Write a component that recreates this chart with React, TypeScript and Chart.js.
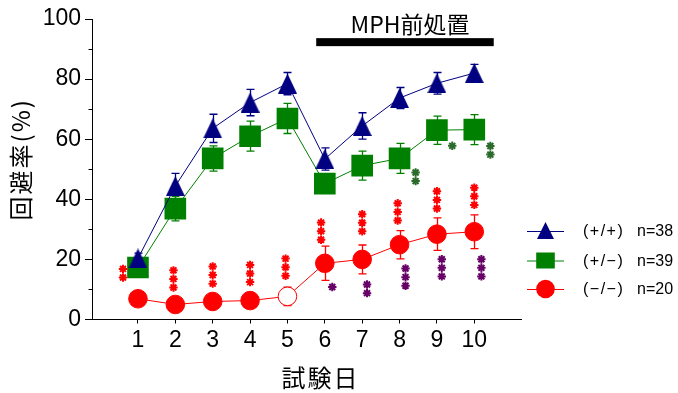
import React, { useEffect, useRef } from 'react';
import { Chart, registerables } from 'chart.js';

Chart.register(...registerables);

// ---- data ----
const days = [1, 2, 3, 4, 5, 6, 7, 8, 9, 10];
const wtMean = [20.3, 44.4, 63.6, 72.2, 78.5, 53.4, 64.4, 73.7, 78.6, 82.0];
const wtErr = [1.8, 4.2, 4.7, 4.4, 3.7, 3.7, 4.4, 3.5, 3.6, 2.9];
const hetMean = [17.3, 36.9, 53.6, 61.0, 66.9, 45.2, 51.2, 53.6, 63.0, 63.2];
const hetErr = [1.8, 4.1, 4.2, 5.0, 5.0, 3.0, 4.8, 5.0, 4.7, 5.0];
const koMean = [6.9, 5.0, 6.0, 6.3, 7.7, 18.7, 20.0, 24.9, 28.4, 29.2];
const koErr = [1.5, 1.5, 1.5, 1.5, 3.1, 5.7, 4.8, 4.7, 5.4, 5.6];
const seriesLabels = ['(+/+)', '(+/−)', '(−/−)'];
const seriesN = ['n=38', 'n=39', 'n=20'];
const yTickValues = [0, 10, 20, 30, 40, 50, 60, 70, 80, 90, 100];

// significance marks: x position (day), y centre (value), number of asterisks
const redStarX = [0.6, 1.95, 3.0, 4.0, 4.95, 5.9, 7.0, 7.95, 9.0, 10.0];
const redStarY = [15.4, 13.5, 14.8, 15.3, 17.4, 29.4, 32.2, 35.8, 39.8, 41.0];
const redStarN = [2, 3, 3, 3, 3, 3, 3, 3, 3, 3];
const purpleStarX = [6.2, 7.13, 8.16, 9.13, 10.19];
const purpleStarY = [10.8, 10.2, 14.1, 17.2, 17.2];
const purpleStarN = [1, 2, 3, 3, 3];
const greenStarX = [8.43, 9.41, 10.43];
const greenStarY = [47.5, 57.8, 56.3];
const greenStarN = [2, 1, 2];

const mphLabel = 'MPH前処置';
const mphRange = [5.77, 10.52];
const mphY = 92.3;

const xTitle = '試験日';
const yTitle = '回避率(%)';

const BLUE = '#000080';
const GREEN = '#008000';
const RED = '#ff0000';
const PURPLE = '#660066';
const DKGREEN = '#2a6a2a';
const NUM_FONT = "'Liberation Sans', Arial, sans-serif";
const CJK_FONT = "'Noto Sans CJK JP', 'Noto Sans', sans-serif";

function makeTriangle(w: number, h: number, color: string) {
  const c = document.createElement('canvas');
  c.width = w;
  c.height = h;
  const g = c.getContext('2d')!;
  g.fillStyle = color;
  g.beginPath();
  g.moveTo(w / 2, 0);
  g.lineTo(w, h);
  g.lineTo(0, h);
  g.closePath();
  g.fill();
  return c;
}

function drawStar(ctx: CanvasRenderingContext2D, cx: number, cy: number, r: number) {
  ctx.beginPath();
  for (let k = 0; k < 4; k++) {
    const a = (k * Math.PI) / 4;
    ctx.moveTo(cx - r * Math.cos(a), cy - r * Math.sin(a));
    ctx.lineTo(cx + r * Math.cos(a), cy + r * Math.sin(a));
  }
  ctx.stroke();
}

export default function App() {
  const ref = useRef<HTMLCanvasElement>(null);

  useEffect(() => {
    const canvas = ref.current!;
    const tri = makeTriangle(19, 20, BLUE);
    const triLegend = makeTriangle(17, 17, BLUE);
    const means = [wtMean, hetMean, koMean];
    const errs = [wtErr, hetErr, koErr];
    const colors = [BLUE, GREEN, RED];

    const extras = {
      id: 'extras',
      beforeDatasetsDraw(chart: any) {
        const ctx = chart.ctx as CanvasRenderingContext2D;
        const xs = chart.scales.x;
        const ys = chart.scales.y;
        ctx.save();
        ctx.lineWidth = 1.3;
        for (let s = 0; s < 3; s++) {
          ctx.strokeStyle = colors[s];
          for (let j = 0; j < days.length; j++) {
            const px = Math.round(xs.getPixelForValue(days[j])) + 0.5;
            const top = ys.getPixelForValue(means[s][j] + errs[s][j]);
            const bot = ys.getPixelForValue(means[s][j] - errs[s][j]);
            ctx.beginPath();
            ctx.moveTo(px, top);
            ctx.lineTo(px, bot);
            ctx.moveTo(px - 4, top);
            ctx.lineTo(px + 4, top);
            ctx.moveTo(px - 4, bot);
            ctx.lineTo(px + 4, bot);
            ctx.stroke();
          }
        }
        ctx.restore();
      },
      afterDatasetsDraw(chart: any) {
        const ctx = chart.ctx as CanvasRenderingContext2D;
        const xs = chart.scales.x;
        const ys = chart.scales.y;
        ctx.save();
        ctx.lineWidth = 2;
        const groups: [number[], number[], number[], string][] = [
          [redStarX, redStarY, redStarN, RED],
          [purpleStarX, purpleStarY, purpleStarN, PURPLE],
          [greenStarX, greenStarY, greenStarN, DKGREEN],
        ];
        const gap = 8.6;
        for (const [gx, gy, gn, col] of groups) {
          ctx.strokeStyle = col;
          for (let i = 0; i < gx.length; i++) {
            const cx = xs.getPixelForValue(gx[i]);
            const cy = ys.getPixelForValue(gy[i]);
            for (let k = 0; k < gn[i]; k++) {
              drawStar(ctx, cx, cy + (k - (gn[i] - 1) / 2) * gap, 4.2);
            }
          }
        }
        // MPH bar
        const x0 = xs.getPixelForValue(mphRange[0]);
        const x1 = xs.getPixelForValue(mphRange[1]);
        const yb = ys.getPixelForValue(mphY);
        ctx.fillStyle = '#000';
        ctx.fillRect(x0, yb - 4, x1 - x0, 8);
        ctx.font = `23px ${CJK_FONT}`;
        ctx.textAlign = 'center';
        ctx.textBaseline = 'middle';
        ctx.fillText(mphLabel, (x0 + x1) / 2 + 5, yb - 18);
        ctx.restore();
      },
      afterDraw(chart: any) {
        const ctx = chart.ctx as CanvasRenderingContext2D;
        const ys = chart.scales.y;
        const area = chart.chartArea;
        ctx.save();
        // minor y ticks
        ctx.strokeStyle = '#000';
        ctx.lineWidth = 1;
        for (const v of yTickValues) {
          if (v % 20 !== 0) {
            const py = Math.round(ys.getPixelForValue(v)) + 0.5;
            ctx.beginPath();
            ctx.moveTo(area.left - 3.5, py);
            ctx.lineTo(area.left, py);
            ctx.stroke();
          }
        }
        // axis titles
        ctx.fillStyle = '#000';
        ctx.textAlign = 'center';
        ctx.textBaseline = 'middle';
        (ctx as any).letterSpacing = '2px';
        ctx.font = `24px ${CJK_FONT}`;
        ctx.fillText(xTitle, (area.left + area.right) / 2 + 14, 378);
        ctx.save();
        ctx.translate(21, (area.top + area.bottom) / 2 - 10);
        ctx.rotate(-Math.PI / 2);
        ctx.fillText(yTitle, 0, 0);
        ctx.restore();
        // legend
        const lx0 = 527;
        const lx1 = 564;
        const lmid = (lx0 + lx1) / 2;
        const rowY = [231, 260.5, 289];
        for (let s = 0; s < 3; s++) {
          const y = rowY[s];
          ctx.strokeStyle = colors[s];
          ctx.lineWidth = 1;
          ctx.beginPath();
          ctx.moveTo(lx0, y + 0.5);
          ctx.lineTo(lx1, y + 0.5);
          ctx.stroke();
          ctx.fillStyle = colors[s];
          if (s === 0) ctx.drawImage(triLegend, lmid - 8.5, y - 9);
          else if (s === 1) ctx.fillRect(lmid - 9.3, y - 8, 18.6, 16);
          else {
            ctx.beginPath();
            ctx.arc(lmid, y, 9.3, 0, Math.PI * 2);
            ctx.fill();
          }
          ctx.fillStyle = '#000';
          ctx.textAlign = 'left';
          ctx.font = `16px ${NUM_FONT}`;
          (ctx as any).letterSpacing = '1.5px';
          ctx.fillText(seriesLabels[s], 583, y + 1);
          (ctx as any).letterSpacing = '0px';
          ctx.fillText(seriesN[s], 637, y + 1);
        }
        ctx.restore();
      },
    };

    const chart = new Chart(canvas, {
      type: 'line',
      data: {
        datasets: [
          {
            label: seriesLabels[0],
            data: days.map((d, i) => ({ x: d, y: wtMean[i] })),
            borderColor: BLUE,
            backgroundColor: BLUE,
            borderWidth: 1,
            pointStyle: tri as any,
            pointRadius: 10,
            tension: 0,
          },
          {
            label: seriesLabels[1],
            data: days.map((d, i) => ({ x: d, y: hetMean[i] })),
            borderColor: GREEN,
            backgroundColor: GREEN,
            borderWidth: 1,
            pointStyle: 'rect',
            pointRadius: 15.3,
            pointBorderWidth: 0,
            pointBackgroundColor: GREEN,
            tension: 0,
          },
          {
            label: seriesLabels[2],
            data: days.map((d, i) => ({ x: d, y: koMean[i] })),
            borderColor: RED,
            backgroundColor: RED,
            borderWidth: 1,
            pointStyle: 'circle',
            pointRadius: 9.3,
            pointBorderWidth: 1,
            pointBorderColor: RED,
            pointBackgroundColor: days.map((d) => (d === 5 ? '#ffffff' : RED)),
            tension: 0,
          },
        ],
      },
      options: {
        responsive: false,
        animation: false,
        devicePixelRatio: 1,
        events: [],
        layout: { padding: { left: 0, right: 157, top: 19, bottom: 0 } },
        plugins: { legend: { display: false }, tooltip: { enabled: false } },
        scales: {
          x: {
            type: 'linear',
            min: -0.23,
            max: 11.25,
            afterBuildTicks: (s: any) => {
              s.ticks = days.map((v) => ({ value: v }));
            },
            afterFit: (s: any) => {
              s.height = 73.5;
            },
            ticks: {
              font: { family: NUM_FONT, size: 23 },
              color: '#000',
              padding: 3,
              maxRotation: 0,
              autoSkip: false,
            },
            grid: { drawOnChartArea: false, tickLength: 4, tickColor: '#000', tickWidth: 1 },
            border: { color: '#000', width: 1 },
          },
          y: {
            type: 'linear',
            min: 0,
            max: 100,
            afterBuildTicks: (s: any) => {
              s.ticks = yTickValues.map((v) => ({ value: v }));
            },
            afterFit: (s: any) => {
              s.width = 92;
            },
            ticks: {
              font: { family: NUM_FONT, size: 23 },
              color: '#000',
              padding: 4,
              callback: (v: any) => (Number(v) % 20 === 0 ? String(v) : ''),
            },
            grid: {
              drawOnChartArea: false,
              tickLength: 7,
              tickWidth: 1,
              tickColor: (c: any) => (c.tick && c.tick.value % 20 === 0 ? '#000' : 'rgba(0,0,0,0)'),
            },
            border: { color: '#000', width: 1 },
          },
        },
      },
      plugins: [extras],
    });

    return () => chart.destroy();
  }, []);

  return (
    <div style={{ position: 'fixed', left: 0, top: 0, width: 678, height: 393, background: '#fff' }}>
      <canvas ref={ref} width={678} height={393} style={{ display: 'block', width: 678, height: 393 }} />
    </div>
  );
}
